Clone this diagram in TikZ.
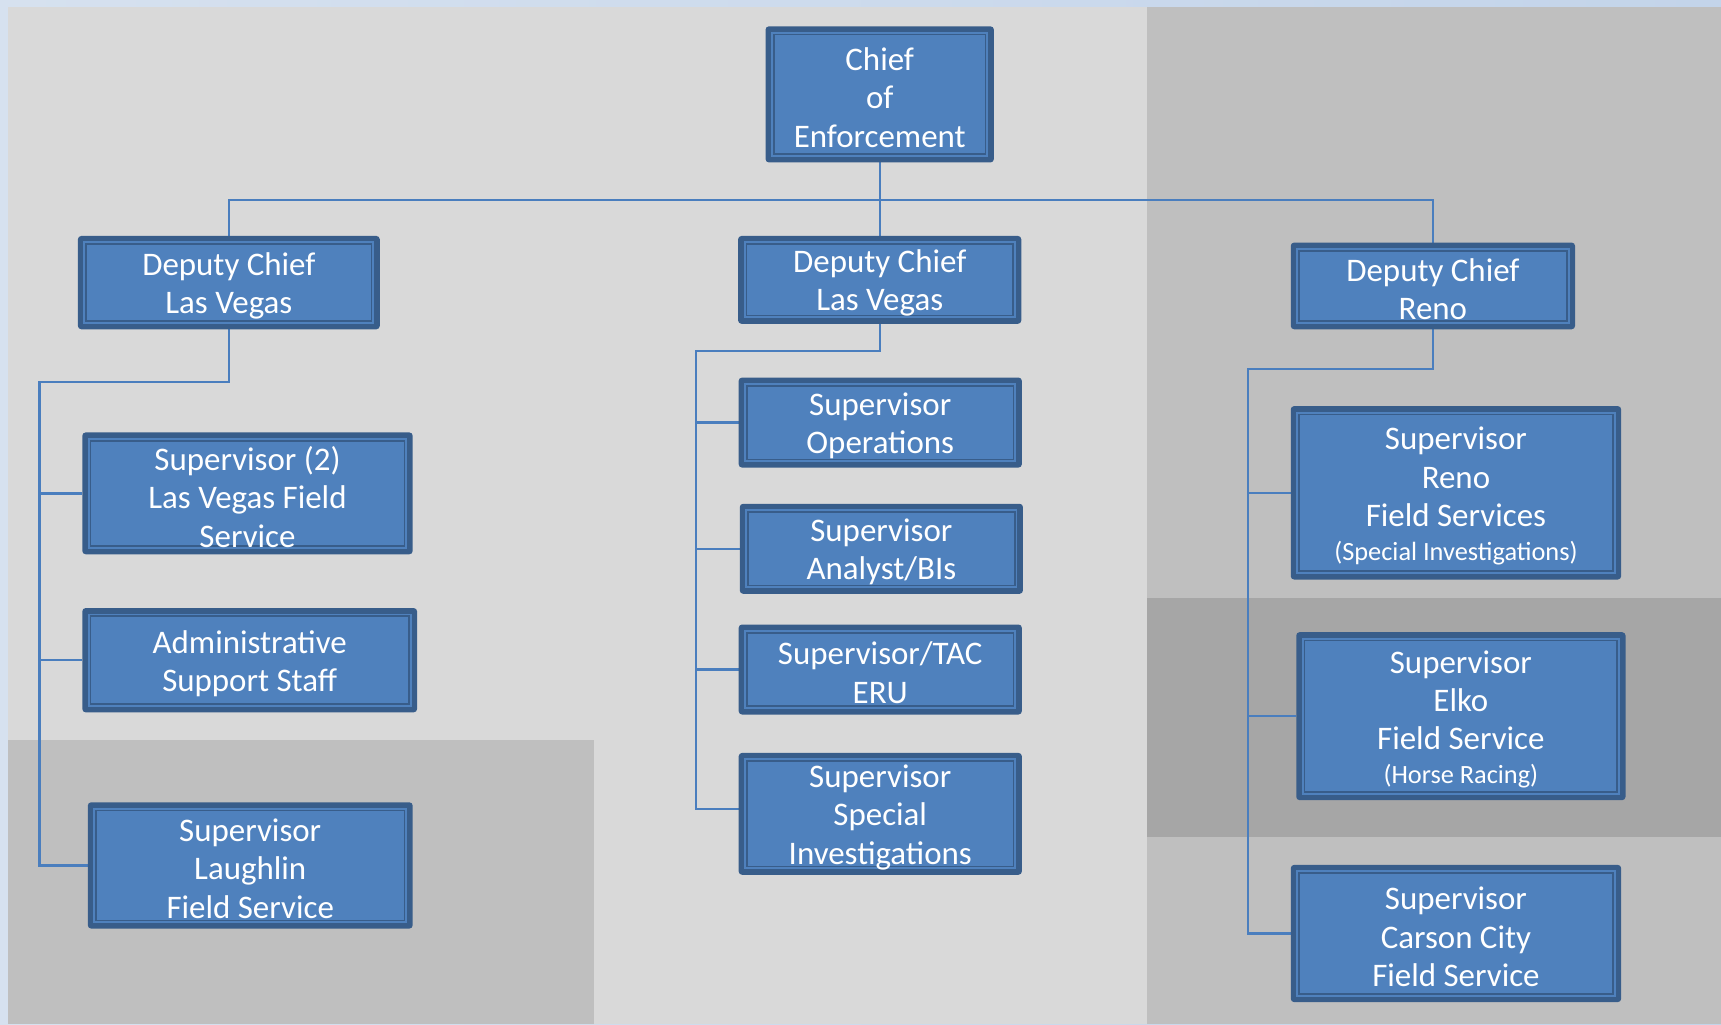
\documentclass[tikz,border=0pt]{standalone}
\usepackage{fontspec}
\setmainfont{Carlito}
\usetikzlibrary{calc}
\definecolor{bl}{HTML}{4F81BD}
\definecolor{dk}{HTML}{385D8A}
\definecolor{conn}{HTML}{4A7EBE}
\definecolor{gA}{HTML}{D9D9D9}
\definecolor{gB}{HTML}{BFBFBF}
\definecolor{gC}{HTML}{A6A6A6}
\definecolor{stripL}{HTML}{D6E1EF}
\definecolor{stripR}{HTML}{C3D4EA}
\pgfdeclarelayer{bg}
\pgfdeclarelayer{lines}
\pgfsetlayers{bg,lines,main}
\tikzset{
  obox/.style={fill=dk, draw=none, rounded corners=3pt, inner sep=0pt, outer sep=0pt},
  txt/.style={text=white, align=center, inner sep=0pt, font=\fontsize{30}{35}\selectfont},
  link/.style={draw=conn, line width=2.2pt},
}
\newcommand\orgbox[6]{%
  \node[obox, minimum width=#4pt, minimum height=#5pt] (#1) at (#2,#3) {};
  \fill[bl] ([xshift=5pt,yshift=-5pt]#1.north west) rectangle ([xshift=-5pt,yshift=5pt]#1.south east);
  \draw[dk, line width=1.5pt] ([xshift=7.5pt,yshift=-7.5pt]#1.north west) rectangle ([xshift=-7.5pt,yshift=7.5pt]#1.south east);
  \node[txt, yshift=-3pt] (#1t) at (#1) {#6};
}
\begin{document}
\begin{tikzpicture}[x=1pt,y=-1pt]
\useasboundingbox (0,0) rectangle (1568,933);
\begin{pgfonlayer}{bg}
  \shade[left color=stripL, right color=stripR] (0,0) rectangle (1568,933);
  \fill[gA] (7,6) rectangle (1568,933);
  \fill[gB] (1045,6) rectangle (1568,545);
  \fill[gC] (1045,545) rectangle (1568,763);
  \fill[gB] (1045,763) rectangle (1568,933);
  \fill[gB] (7,674) rectangle (541,933);
\end{pgfonlayer}

\orgbox{chief}{801.5}{86}{208}{124}{Chief\\of\\Enforcement}
\orgbox{dcl}{208.5}{257.5}{275}{85}{Deputy Chief\\Las Vegas}
\orgbox{dcm}{801.5}{255}{258}{80}{Deputy Chief\\Las Vegas}
\orgbox{dcr}{1305.5}{260.5}{259}{79}{Deputy Chief\\Reno}

\orgbox{sup2}{225.5}{449.5}{301}{111}{Supervisor (2)\\Las Vegas Field\\Service}
\orgbox{adm}{227.5}{601.5}{305}{95}{Administrative\\Support Staff}
\orgbox{lau}{228}{788.5}{296}{115}{Supervisor\\Laughlin\\Field Service}

\orgbox{ops}{802}{385}{258}{82}{Supervisor\\Operations}
\orgbox{ana}{803}{500}{258}{82}{Supervisor\\Analyst/BIs}
\orgbox{tac}{802}{610}{258}{82}{Supervisor/TAC\\ERU}
\orgbox{si}{802}{741.5}{258}{111}{Supervisor\\Special\\Investigations}

\orgbox{reno}{1326.5}{449}{301}{158}{Supervisor\\Reno\\Field Services\\[-4pt]{\fontsize{24}{30}\selectfont (Special Investigations)}}
\orgbox{elko}{1331}{652.5}{300}{153}{Supervisor\\Elko\\Field Service\\[-4pt]{\fontsize{24}{30}\selectfont (Horse Racing)}}
\orgbox{car}{1326.5}{850.5}{301}{125}{Supervisor\\Carson City\\Field Service}

\coordinate (j0) at (801.5,182);
\coordinate (jl) at (36,348);
\coordinate (jm) at (634,320);
\coordinate (jr) at (1137,336);
\coordinate (jsi) at (634,737);

\begin{pgfonlayer}{lines}
  \draw[link] (chief.south) -- (j0);
  \draw[link] (dcl.north) |- (j0) -| (dcr.north);
  \draw[link] (j0) -- (dcm.north);

  \draw[link] (dcl.south) |- (jl) |- (lau.west);
  \draw[link] (jl |- sup2.west) -- (sup2.west);
  \draw[link] (jl |- adm.west) -- (adm.west);

  \draw[link] (dcm.south) |- (jm) -- (jsi) -- (jsi -| si.west);
  \draw[link] (jm |- ops.west) -- (ops.west);
  \draw[link] (jm |- ana.west) -- (ana.west);
  \draw[link] (jm |- tac.west) -- (tac.west);

  \draw[link] (dcr.south) |- (jr) |- (car.west);
  \draw[link] (jr |- reno.west) -- (reno.west);
  \draw[link] (jr |- elko.west) -- (elko.west);
\end{pgfonlayer}
\end{tikzpicture}
\end{document}
